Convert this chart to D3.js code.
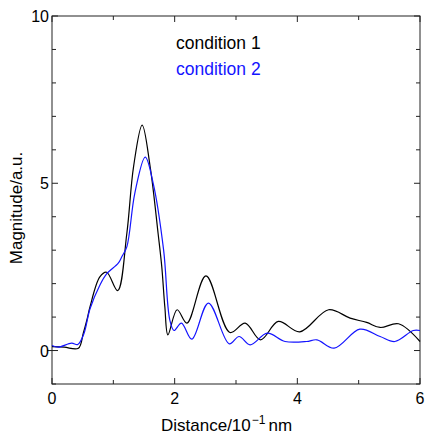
<!DOCTYPE html>
<html lang="en">
<head>
<meta charset="UTF-8">
<title>Magnitude vs Distance</title>
<script src="https://cdn.jsdelivr.net/npm/d3@7"></script>
<style>
    body { margin: 0; background: #fff; font-family: 'Liberation Sans', Arial, sans-serif; }
</style>
</head>
<body>
<svg id="chart" width="426" height="434"></svg>
<script>
    // values
    const distance1 = [0, 0.2, 0.43, 0.51, 0.57, 0.62, 0.78, 0.89, 1.07, 1.22, 1.33, 1.47, 1.6, 1.73, 1.79, 1.84, 1.89, 2.04, 2.2, 2.51, 2.9, 3.15, 3.4, 3.69, 4.04, 4.51, 4.86, 5.13, 5.35, 5.65, 6];
    const magnitude1 = [0.12, 0.1, 0.07, 0.52, 0.92, 1.31, 2.2, 2.34, 1.79, 3.5, 5.5, 6.74, 5.5, 3.5, 2.5, 1.3, 0.47, 1.22, 0.82, 2.23, 0.54, 0.82, 0.32, 0.87, 0.56, 1.22, 0.97, 0.84, 0.69, 0.8, 0.27];

    const distance2 = [0, 0.1, 0.32, 0.42, 0.52, 0.62, 0.78, 0.89, 1.08, 1.14, 1.22, 1.35, 1.52, 1.65, 1.82, 1.92, 1.99, 2.11, 2.28, 2.55, 2.89, 3.05, 3.23, 3.51, 3.8, 4.15, 4.32, 4.6, 5.02, 5.35, 5.59, 5.89, 6];
    const magnitude2 = [0.15, 0.1, 0.22, 0.18, 0.5, 1.25, 1.95, 2.29, 2.61, 2.81, 3.1, 4.7, 5.78, 5.0, 3.0, 0.92, 0.6, 0.82, 0.34, 1.42, 0.2, 0.42, 0.17, 0.52, 0.27, 0.27, 0.32, 0.07, 0.64, 0.42, 0.27, 0.6, 0.6];

    const seriesNames = ["condition 1", "condition 2"];
    const seriesColors = ["#000000", "#1414ff"];
    const xTickLabels = [0, 2, 4, 6];
    const yTickLabels = [0, 5, 10];

    const svg = d3.select("#chart");
    const margin = { left: 52, right: 6, top: 16, bottom: 50 };
    const width = 426, height = 434;

    const x = d3.scaleLinear().domain([0, 6]).range([margin.left, width - margin.right]);
    const y = d3.scaleLinear().domain([-1, 10]).range([height - margin.bottom, margin.top]);

    // frame
    svg.append("rect")
        .attr("x", x(0)).attr("y", y(10))
        .attr("width", x(6) - x(0)).attr("height", y(-1) - y(10))
        .attr("fill", "none").attr("stroke", "#222").attr("stroke-width", 1);

    // inward ticks on all four sides
    const xTicks = d3.range(0, 7);
    const yTicks = d3.range(-1, 11);
    const tickG = svg.append("g").attr("stroke", "#222").attr("stroke-width", 1);
    xTicks.forEach(t => {
        const len = xTickLabels.includes(t) ? 6 : 4;
        tickG.append("line").attr("x1", x(t)).attr("x2", x(t)).attr("y1", y(-1)).attr("y2", y(-1) - len);
        tickG.append("line").attr("x1", x(t)).attr("x2", x(t)).attr("y1", y(10)).attr("y2", y(10) + len);
    });
    yTicks.forEach(t => {
        const len = yTickLabels.includes(t) ? 6 : 4;
        tickG.append("line").attr("x1", x(0)).attr("x2", x(0) + len).attr("y1", y(t)).attr("y2", y(t));
        tickG.append("line").attr("x1", x(6)).attr("x2", x(6) - len).attr("y1", y(t)).attr("y2", y(t));
    });
    // small outward dash at zero
    tickG.append("line").attr("x1", x(0) - 5).attr("x2", x(0)).attr("y1", y(0)).attr("y2", y(0));

    // tick labels
    svg.append("g").selectAll("text")
        .data(xTickLabels)
        .enter().append("text")
        .attr("x", d => x(d))
        .attr("y", y(-1) + 20)
        .attr("text-anchor", "middle")
        .style("font-size", "16px")
        .text(d => d);

    svg.append("g").selectAll("text")
        .data(yTickLabels)
        .enter().append("text")
        .attr("x", x(0) - 3)
        .attr("y", d => y(d) + 6)
        .attr("text-anchor", "end")
        .style("font-size", "16px")
        .text(d => d);

    // axis titles
    const xt = svg.append("text")
        .attr("x", 161)
        .attr("y", 431)
        .style("font-size", "17px");
    xt.append("tspan").text("Distance/10");
    xt.append("tspan").attr("dx", 1).attr("dy", -7).style("font-size", "12px").text("\u22121");
    xt.append("tspan").attr("dx", 3).attr("dy", 7).text("nm");

    svg.append("text")
        .attr("transform", "translate(22, 208) rotate(-90)")
        .attr("text-anchor", "middle")
        .style("font-size", "17px")
        .text("Magnitude/a.u.");

    // curves
    const line = d3.line()
        .x(d => x(d[0]))
        .y(d => y(d[1]))
        .curve(d3.curveCatmullRom.alpha(0.5));

    const series = [
        d3.zip(distance1, magnitude1),
        d3.zip(distance2, magnitude2)
    ];

    svg.append("g").selectAll("path")
        .data(series)
        .enter().append("path")
        .attr("d", line)
        .attr("fill", "none")
        .attr("stroke", (d, i) => seriesColors[i])
        .attr("stroke-width", 1.2);

    // legend
    svg.append("g").selectAll("text")
        .data(seriesNames)
        .enter().append("text")
        .attr("x", 176)
        .attr("y", (d, i) => 49 + i * 25.5)
        .style("font-size", "17.5px")
        .attr("fill", (d, i) => seriesColors[i])
        .text(d => d);
</script>
</body>
</html>
